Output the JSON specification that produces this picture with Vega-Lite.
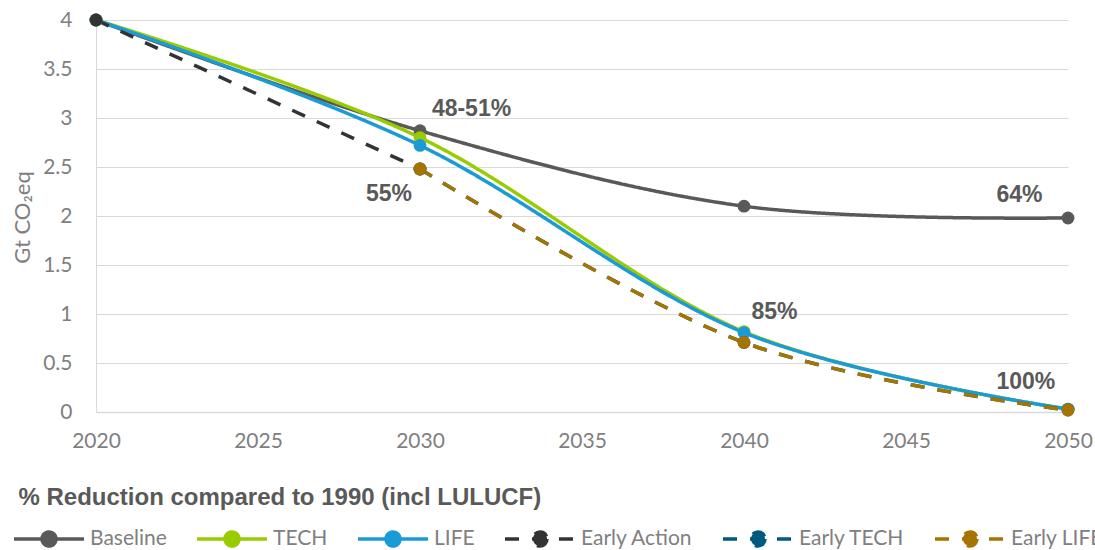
{
  "$schema": "https://vega.github.io/schema/vega-lite/v6.json",
  "width": 972,
  "height": 392,
  "autosize": {"type": "none"},
  "padding": {"left": 96, "top": 20, "right": 27, "bottom": 138},
  "config": {
    "view": {"stroke": null},
    "font": "Lato",
    "axis": {"labelFont": "Lato", "labelFontSize": 21, "labelColor": "#7f7f7f", "titleFont": "Lato", "domainColor": "#d9d9d9", "gridColor": "#d9d9d9", "ticks": false}
  },
  "datasets": {
    "series": [
      {"series": "Baseline", "year": 2020, "value": 4.0},
      {"series": "Baseline", "year": 2030, "value": 2.87},
      {"series": "Baseline", "year": 2040, "value": 2.10},
      {"series": "Baseline", "year": 2050, "value": 1.98},
      {"series": "TECH", "year": 2020, "value": 4.0},
      {"series": "TECH", "year": 2030, "value": 2.80},
      {"series": "TECH", "year": 2040, "value": 0.82},
      {"series": "TECH", "year": 2050, "value": 0.03},
      {"series": "LIFE", "year": 2020, "value": 4.0},
      {"series": "LIFE", "year": 2030, "value": 2.72},
      {"series": "LIFE", "year": 2040, "value": 0.81},
      {"series": "LIFE", "year": 2050, "value": 0.03},
      {"series": "Early Action", "year": 2020, "value": 4.0},
      {"series": "Early Action", "year": 2030, "value": 2.48},
      {"series": "Early TECH", "year": 2030, "value": 2.48},
      {"series": "Early TECH", "year": 2040, "value": 0.71},
      {"series": "Early TECH", "year": 2050, "value": 0.02},
      {"series": "Early LIFE", "year": 2030, "value": 2.48},
      {"series": "Early LIFE", "year": 2040, "value": 0.71},
      {"series": "Early LIFE", "year": 2050, "value": 0.02}
    ],
    "labels": [
      {"label": "48-51%", "x": 2031.59, "y": 3.094},
      {"label": "55%", "x": 2029.04, "y": 2.224},
      {"label": "85%", "x": 2040.94, "y": 1.018},
      {"label": "64%", "x": 2048.5, "y": 2.219},
      {"label": "100%", "x": 2048.7, "y": 0.305}
    ]
  },
  "layer": [
    {
      "data": {"name": "series"},
      "mark": {"type": "line", "strokeWidth": 3.5, "interpolate": "cardinal", "tension": 0},
      "encoding": {
        "x": {
          "field": "year", "type": "quantitative",
          "scale": {"domain": [2020, 2050], "nice": false, "zero": false},
          "axis": {
            "values": [2020, 2025, 2030, 2035, 2040, 2045, 2050], "format": "d", "grid": false,
            "labelFlush": false, "domainWidth": 1.5, "labelPadding": 18,
            "title": "% Reduction compared to 1990 (incl LULUCF)",
            "titleFont": "Liberation Sans", "titleFontWeight": "bold", "titleFontSize": 24, "titleColor": "#595959",
            "titleX": -78, "titleY": 85, "titleAlign": "left", "titleBaseline": "middle"
          }
        },
        "y": {
          "field": "value", "type": "quantitative",
          "scale": {"domain": [0, 4], "nice": false},
          "axis": {
            "values": [0, 0.5, 1, 1.5, 2, 2.5, 3, 3.5, 4], "format": "~g", "grid": true, "labelPadding": 24,
            "title": "Gt CO₂eq", "titleFontSize": 22, "titleFontWeight": "normal", "titleColor": "#7f7f7f",
            "titleX": -74, "titleY": 197, "titleAlign": "center", "titleBaseline": "middle", "titleAngle": -90
          }
        },
        "color": {
          "field": "series", "type": "nominal",
          "scale": {
            "domain": ["Baseline", "TECH", "LIFE", "Early Action", "Early TECH", "Early LIFE"],
            "range": ["#595959", "#99CC00", "#1A9AD6", "#333333", "#005A80", "#A67400"]
          },
          "legend": {
            "orient": "none", "legendX": -84, "legendY": 482, "direction": "horizontal", "columns": 6,
            "title": null, "padding": 0,
            "symbolType": "M-1,0L1,0M0.2,0A0.2,0.2,0,1,1,-0.2,0A0.2,0.2,0,1,1,0.2,0Z",
            "symbolSize": 4900, "symbolStrokeWidth": 3.5,
            "labelFont": "Lato", "labelFontSize": 21, "labelColor": "#808080", "labelOffset": 4,
            "columnPadding": 23,
            "encode": {"symbols": {"update": {"fill": {"scale": "color", "field": "value"}, "fillOpacity": {"value": 1}, "opacity": {"value": 1}}}}
          }
        },
        "strokeDash": {
          "field": "series", "type": "nominal",
          "scale": {
            "domain": ["Baseline", "TECH", "LIFE", "Early Action", "Early TECH", "Early LIFE"],
            "range": [[1, 0], [1, 0], [1, 0], [14, 13], [14, 13], [14, 13]]
          },
          "legend": null
        }
      }
    },
    {
      "data": {"name": "series"},
      "mark": {"type": "point", "filled": true, "size": 165, "opacity": 1},
      "encoding": {
        "x": {"field": "year", "type": "quantitative"},
        "y": {"field": "value", "type": "quantitative"},
        "color": {"field": "series", "type": "nominal"}
      }
    },
    {
      "data": {"name": "labels"},
      "mark": {"type": "text", "font": "Liberation Sans", "fontWeight": "bold", "fontSize": 23, "color": "#595959", "align": "center", "baseline": "middle"},
      "encoding": {
        "x": {"field": "x", "type": "quantitative"},
        "y": {"field": "y", "type": "quantitative"},
        "text": {"field": "label"}
      }
    }
  ]
}
